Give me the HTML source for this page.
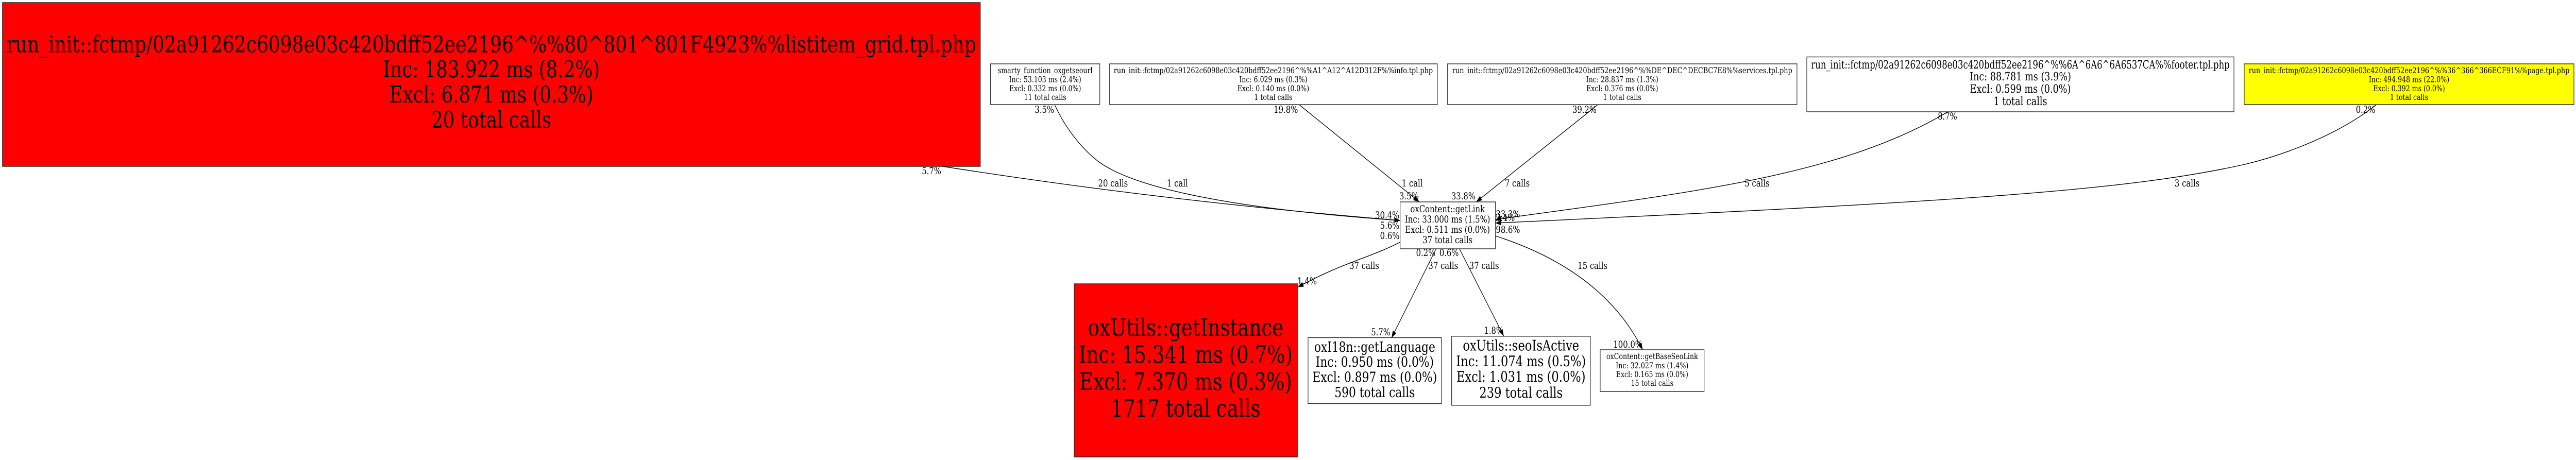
<!DOCTYPE html>
<html><head><meta charset="utf-8"><style>
html,body{margin:0;padding:0;background:#fff;width:100%;height:100%;overflow:hidden}
svg{display:block;width:100vw;height:100vh}
text{font-family:"DejaVu Serif",serif;fill:#000;text-rendering:geometricPrecision}
.c{text-anchor:middle}
.n{fill:#fff;stroke:#222;stroke-width:1.4}
.e{fill:none;stroke:#000;stroke-width:1.4;marker-end:url(#a)}
.l{font-size:18.67px}
</style></head><body>
<svg viewBox="0 0 6296 893" preserveAspectRatio="none" xmlns="http://www.w3.org/2000/svg">
<defs><marker id="a" markerUnits="userSpaceOnUse" markerWidth="15" markerHeight="12" refX="14" refY="5.5" orient="auto"><path d="M0 0.5L14 5.5L0 10.5Z" fill="#000"/></marker></defs>
<rect width="6296" height="893" fill="#fff"/>

<path class="e" d="M2304 323C2672 369 3052 404 3422 428"/>
<path class="e" d="M2578 204C2605 250 2645 290 2687 315C2760 356 2950 402 3422 428"/>
<path class="e" d="M3176.5 204L3469 392"/>
<path class="e" d="M3904 204L3608 392"/>
<path class="e" d="M4761 217C4500 340 4150 372 3655 426"/>
<path class="e" d="M5807 204C5700 270 5560 305 5487 319C5200 370 4800 391 3655 433"/>
<path class="e" d="M3422 470C3350 500 3280 510 3172 557.5"/>
<path class="e" d="M3510 483L3401 656"/>
<path class="e" d="M3567 483L3675.5 652.7"/>
<path class="e" d="M3655 458C3800 495 3940 560 4015 679"/>

<rect class="n" style="fill:#f00" x="6" y="5" width="2390" height="318"/>
<g font-size="44.9" class="c">
<text x="1201" y="101.5" textLength="2370" lengthAdjust="spacingAndGlyphs">run_init::fctmp/02a91262c6098e03c420bdff52ee2196^%%80^801^801F4923%%listitem_grid.tpl.php</text>
<text x="1201" y="150">Inc: 183.922 ms (8.2%)</text>
<text x="1201" y="199">Excl: 6.871 ms (0.3%)</text>
<text x="1201" y="248">20 total calls</text>
</g>

<rect class="n" x="2421" y="124" width="267" height="79"/>
<g font-size="15.8" class="c">
<text x="2554.5" y="142">smarty_function_oxgetseourl</text>
<text x="2554.5" y="159.5">Inc: 53.103 ms (2.4%)</text>
<text x="2554.5" y="177">Excl: 0.332 ms (0.0%)</text>
<text x="2554.5" y="194">11 total calls</text>
</g>

<rect class="n" x="2712" y="124" width="801" height="79"/>
<g font-size="15.8" class="c">
<text x="3112" y="142" textLength="780" lengthAdjust="spacingAndGlyphs">run_init::fctmp/02a91262c6098e03c420bdff52ee2196^%%A1^A12^A12D312F%%info.tpl.php</text>
<text x="3112" y="159.5">Inc: 6.029 ms (0.3%)</text>
<text x="3112" y="177">Excl: 0.140 ms (0.0%)</text>
<text x="3112" y="194">1 total calls</text>
</g>

<rect class="n" x="3538" y="124" width="854" height="79"/>
<g font-size="15.8" class="c">
<text x="3965" y="142" textLength="831" lengthAdjust="spacingAndGlyphs">run_init::fctmp/02a91262c6098e03c420bdff52ee2196^%%DE^DEC^DECBC7E8%%services.tpl.php</text>
<text x="3965" y="159.5">Inc: 28.837 ms (1.3%)</text>
<text x="3965" y="177">Excl: 0.376 ms (0.0%)</text>
<text x="3965" y="194">1 total calls</text>
</g>

<rect class="n" x="4416" y="110.5" width="1044" height="106.5"/>
<g font-size="22.2" class="c">
<text x="4938" y="133" textLength="1023" lengthAdjust="spacingAndGlyphs">run_init::fctmp/02a91262c6098e03c420bdff52ee2196^%%6A^6A6^6A6537CA%%footer.tpl.php</text>
<text x="4938" y="156">Inc: 88.781 ms (3.9%)</text>
<text x="4938" y="180">Excl: 0.599 ms (0.0%)</text>
<text x="4938" y="204">1 total calls</text>
</g>

<rect class="n" style="fill:#ff0" x="5485" y="124" width="806" height="79"/>
<g font-size="15.8" class="c">
<text x="5888" y="142" textLength="784" lengthAdjust="spacingAndGlyphs">run_init::fctmp/02a91262c6098e03c420bdff52ee2196^%%36^366^366ECF91%%page.tpl.php</text>
<text x="5888" y="159.5">Inc: 494.948 ms (22.0%)</text>
<text x="5888" y="177">Excl: 0.392 ms (0.0%)</text>
<text x="5888" y="194">1 total calls</text>
</g>

<rect class="n" x="3422" y="392" width="233" height="91"/>
<g font-size="18.67" class="c">
<text x="3538" y="412">oxContent::getLink</text>
<text x="3538" y="432">Inc: 33.000 ms (1.5%)</text>
<text x="3538" y="452">Excl: 0.511 ms (0.0%)</text>
<text x="3538" y="472">37 total calls</text>
</g>

<rect class="n" style="fill:#f00" x="2625.5" y="551" width="545.5" height="336"/>
<g font-size="46.8" class="c">
<text x="2898" y="652">oxUtils::getInstance</text>
<text x="2898" y="704.5">Inc: 15.341 ms (0.7%)</text>
<text x="2898" y="757">Excl: 7.370 ms (0.3%)</text>
<text x="2898" y="809">1717 total calls</text>
</g>

<rect class="n" x="3197" y="655.5" width="326" height="128"/>
<g font-size="27.4" class="c">
<text x="3360" y="683">oxI18n::getLanguage</text>
<text x="3360" y="712">Inc: 0.950 ms (0.0%)</text>
<text x="3360" y="741.5">Excl: 0.897 ms (0.0%)</text>
<text x="3360" y="771">590 total calls</text>
</g>

<rect class="n" x="3548" y="652.7" width="339" height="134"/>
<g font-size="28.4" class="c">
<text x="3717.5" y="680.7">oxUtils::seoIsActive</text>
<text x="3717.5" y="711">Inc: 11.074 ms (0.5%)</text>
<text x="3717.5" y="741">Excl: 1.031 ms (0.0%)</text>
<text x="3717.5" y="772">239 total calls</text>
</g>

<rect class="n" x="3911" y="679" width="254" height="81"/>
<g font-size="15.9" class="c">
<text x="4038" y="697">oxContent::getBaseSeoLink</text>
<text x="4038" y="715">Inc: 32.027 ms (1.4%)</text>
<text x="4038" y="732">Excl: 0.165 ms (0.0%)</text>
<text x="4038" y="749">15 total calls</text>
</g>

<g class="l">
<text x="3426" y="362">1 call</text>
<text x="3678" y="362">7 calls</text>
<text x="3420" y="387">3.5%</text>
<text x="3547" y="387">33.8%</text>
<text x="3361" y="424">30.4%</text>
<text x="3373" y="444">5.6%</text>
<text x="3373" y="464">0.6%</text>
<text x="3656" y="422">33.3%</text>
<text x="3655" y="429">3.4%</text>
<text x="3656" y="452">98.6%</text>
<text x="3461" y="497">0.2%</text>
<text x="3518" y="497">0.6%</text>
<text x="3298" y="522">37 calls</text>
<text x="3491" y="522">37 calls</text>
<text x="3591" y="522">37 calls</text>
<text x="3856" y="522">15 calls</text>
<text x="3351" y="651">5.7%</text>
<text x="3627" y="648">1.8%</text>
<text x="3943" y="675">100.0%</text>
<text x="3843" y="219">39.2%</text>
<text x="4736" y="232">8.7%</text>
<text x="4264" y="362">5 calls</text>
<text x="5315" y="362">3 calls</text>
<text x="5758" y="219">0.2%</text>
<text x="2529" y="219">3.5%</text>
<text x="3113" y="219">19.8%</text>
<text x="2253" y="338">5.7%</text>
<text x="2684" y="362">20 calls</text>
<text x="2852" y="362">1 call</text>
<text x="3171" y="552">1.4%</text>
</g>
</svg>
</body></html>
